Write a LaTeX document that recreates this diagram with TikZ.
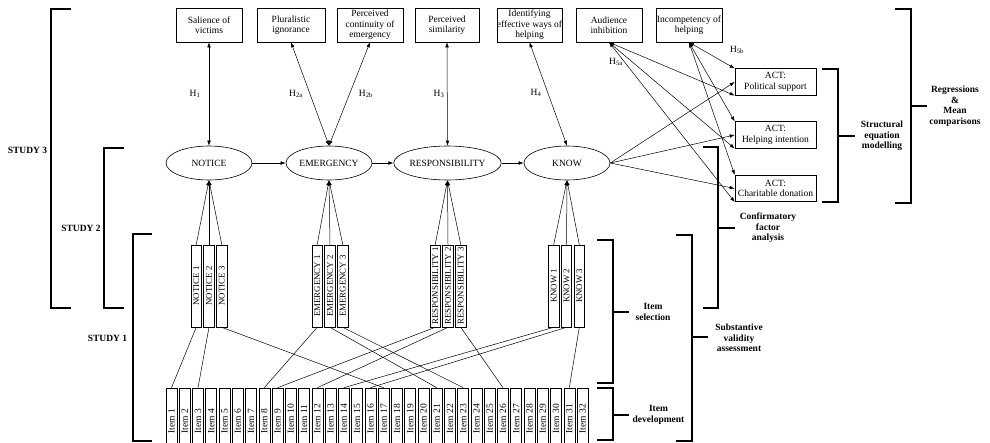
\documentclass[tikz,border=0pt]{standalone}
\usepackage{fontspec}
\setmainfont{Liberation Serif}
\usetikzlibrary{arrows.meta,shapes.geometric}
\begin{document}
\begin{tikzpicture}[x=1pt,y=-1pt,
  fnt/.style={font=\fontsize{9.5}{10.5}\selectfont},
  topbox/.style={draw, rectangle, line width=0.6pt, minimum width=66pt, minimum height=34pt, inner sep=0pt, align=center, fnt},
  ell/.style={draw, ellipse, line width=0.6pt, minimum width=86pt, minimum height=34pt, inner sep=0pt, fnt},
  ind/.style={draw, rectangle, line width=0.6pt, rotate=90, minimum width=82pt, minimum height=10.5pt, inner sep=0pt, font=\fontsize{8.8}{10}\selectfont},
  itm/.style={draw, rectangle, line width=0.6pt, rotate=90, minimum width=64pt, minimum height=11pt, inner sep=0pt, fnt},
  actbox/.style={draw, rectangle, line width=0.6pt, minimum width=81pt, minimum height=26.5pt, inner sep=0pt, align=center, fnt},
  lbl/.style={align=center, font=\fontsize{9.5}{10.5}\selectfont\bfseries, inner sep=0pt},
  hlab/.style={fnt, inner sep=0pt},
  conn/.style={line width=0.5pt},
  arr/.style={conn, -{Latex[length=5pt,width=3.6pt]}},
  darr/.style={conn, {Latex[length=5pt,width=3.6pt]}-{Latex[length=5pt,width=3.6pt]}},
  brk/.style={line width=1.2pt},
]
\useasboundingbox (0,0) rectangle (990,442);
\clip (0,0) rectangle (990,442);

% top boxes
\node[topbox] (sal) at (209,25) {Salience of\\victims};
\node[topbox, minimum width=68pt] (plu) at (291,25) {Pluralistic\\ignorance};
\node[topbox] (con) at (370,25) {Perceived\\continuity of\\emergency};
\node[topbox, minimum width=64pt] (sim) at (447,25) {Perceived\\similarity};
\node[topbox, minimum width=65pt] (ide) at (529.5,25) {Identifying\\effective ways of\\helping};
\node[topbox] (aud) at (609,25) {Audience\\inhibition};
\node[topbox] (inc) at (689,25) {Incompetency of\\helping};

% ellipses
\node[ell] (notice) at (209,163) {NOTICE};
\node[ell] (emerg) at (329,163) {EMERGENCY};
\node[ell] (resp) at (447.5,163) {RESPONSIBILITY};
\node[ell] (know) at (567,163) {KNOW};

% ACT boxes
\node[actbox] (act1) at (775.5,82) {ACT:\\Political support};
\node[actbox] (act2) at (775.5,135) {ACT:\\Helping intention};
\node[actbox] (act3) at (775.5,188.5) {ACT:\\Charitable donation};

% indicator boxes
\node[ind] (n1) at (196.2,286) {NOTICE 1};
\node[ind] (n2) at (209,286) {NOTICE 2};
\node[ind] (n3) at (221.8,286) {NOTICE 3};
\node[ind] (e1) at (317.2,286) {EMERGENCY 1};
\node[ind] (e2) at (330,286) {EMERGENCY 2};
\node[ind] (e3) at (342.8,286) {EMERGENCY 3};
\node[ind] (r1) at (435.2,286) {RESPONSIBILITY 1};
\node[ind] (r2) at (448,286) {RESPONSIBILITY 2};
\node[ind] (r3) at (460.8,286) {RESPONSIBILITY 3};
\node[ind] (k1) at (553.7,286) {KNOW 1};
\node[ind] (k2) at (566.5,286) {KNOW 2};
\node[ind] (k3) at (579.3,286) {KNOW 3};

% items
\foreach \k in {1,...,32}{
  \pgfmathsetmacro\cx{171.5+(\k-1)*13.26}
  \node[itm] (i\k) at (\cx,420) {\makebox[27pt][l]{Item \k}};
}

% structural arrows
\draw[arr] (notice.east) -- (emerg.west);
\draw[arr] (emerg.east) -- (resp.west);
\draw[arr] (resp.east) -- (know.west);

% indicator arrows
\foreach \a/\b in {n1/notice,n2/notice,n3/notice,e1/emerg,e2/emerg,e3/emerg,r1/resp,r2/resp,r3/resp,k1/know,k2/know,k3/know}
  \draw[arr] (\a.east) -- (\b.south);

% indicator to item lines
\foreach \a/\b in {n1/i1,n2/i3,n3/i17,e1/i8,e2/i21,e3/i23,r1/i9,r2/i12,r3/i26,k1/i14,k2/i16,k3/i31}
  \draw[conn] (\a.west) -- (\b.east);

% hypotheses
\draw[darr] (sal.south) -- (notice.north);
\draw[darr] (plu.south) -- (emerg.north);
\draw[darr] (con.south) -- (emerg.north);
\draw[darr] (sim.south) -- (resp.north);
\draw[darr] (ide.south) -- (know.north);
\foreach \t in {act1,act2,act3}{
  \draw[darr] (aud.south) -- (\t.south west);
  \draw[darr] (inc.south) -- (\t.north west);
  \draw[arr] (know.east) -- (\t.west);
}

\node[hlab] (h1) at (195,94) {H\textsubscript{1}};
\node[hlab] (h2a) at (296,94) {H\textsubscript{2a}};
\node[hlab] (h2b) at (366,94) {H\textsubscript{2b}};
\node[hlab] (h3) at (439,94) {H\textsubscript{3}};
\node[hlab] (h4) at (536,93) {H\textsubscript{4}};
\node[hlab] (h5a) at (616,62) {H\textsubscript{5a}};
\node[hlab] (h5b) at (737,50) {H\textsubscript{5b}};

% left brackets
\draw[brk] (71,9) -- (51,9) -- (51,308) -- (71,308);
\draw[brk] (124,148) -- (104,148) -- (104,308) -- (124,308);
\draw[brk] (152,234) -- (133,234) -- (133,441) -- (152,441);
\node[lbl] (s3) at (27.5,150) {STUDY 3};
\node[lbl] (s2) at (81,228) {STUDY 2};
\node[lbl] (s1) at (107.5,338) {STUDY 1};

% right brackets
\draw[brk] (597,240) -- (613,240) -- (613,383) -- (597,383);
\draw[brk] (613,312) -- (629,312);
\node[lbl] (isel) at (653,312) {Item\\selection};
\draw[brk] (597,388) -- (613,388) -- (613,440) -- (597,440);
\draw[brk] (613,415) -- (629,415);
\node[lbl] (idev) at (658.5,415) {Item\\development};
\draw[brk] (676,235) -- (692,235) -- (692,441) -- (676,441);
\draw[brk] (692,337) -- (708,337);
\node[lbl] (sva) at (739,338) {Substantive\\validity\\assessment};
\draw[brk] (703,147) -- (718,147) -- (718,308) -- (703,308);
\draw[brk] (718,228) -- (735,228);
\node[lbl] (cfa) at (768,228) {Confirmatory\\factor\\analysis};
\draw[brk] (822,69) -- (838,69) -- (838,202) -- (822,202);
\draw[brk] (838,136) -- (855,136);
\node[lbl] (sem) at (882,136) {Structural\\equation\\modelling};
\draw[brk] (895,9) -- (911,9) -- (911,203) -- (895,203);
\draw[brk] (911,106) -- (927,106);
\node[lbl] (reg) at (955,106) {Regressions\\\&\\Mean\\comparisons};
\end{tikzpicture}
\end{document}
